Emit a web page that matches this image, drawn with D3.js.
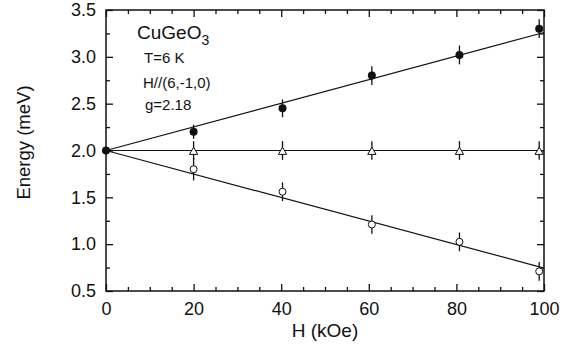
<!DOCTYPE html>
<html lang="en">
<head>
<meta charset="UTF-8">
<title>CuGeO3 ESR</title>
<style>
  body { margin: 0; background: #fff; }
  svg text { font-family: "Liberation Sans", Arial, sans-serif; fill: #111; }
</style>
</head>
<body>
<script src="https://cdn.jsdelivr.net/npm/d3@7.8.5/dist/d3.min.js"></script>
<script>
// data
const hUp = [0, 20, 40.3, 60.7, 80.7, 98.9];
const eUp = [2.0, 2.2, 2.45, 2.8, 3.02, 3.3];
const errUp = [0, 0.075, 0.095, 0.1, 0.1, 0.1];

const hMid = [20, 40.3, 60.7, 80.7, 98.9];
const eMid = [2.0, 2.0, 2.0, 2.0, 2.0];
const errMid = [0.1, 0.1, 0.1, 0.1, 0.1];

const hLow = [20, 40.3, 60.7, 80.7, 98.9];
const eLow = [1.80, 1.56, 1.21, 1.025, 0.71];
const errLow = [0.12, 0.1, 0.1, 0.1, 0.1];

// fitted lines (g = 2.18)
const fitH = [0, 100];
const fitUp = [2.0, 3.26];
const fitMid = [2.0, 2.0];
const fitLow = [2.0, 0.745];

const xTicks = [0, 20, 40, 60, 80, 100];
const yTicks = [0.5, 1.0, 1.5, 2.0, 2.5, 3.0, 3.5];

const width = 571, height = 347;
const margin = {left: 106, right: 27, top: 10, bottom: 56};

const svg = d3.select("body").append("svg")
    .attr("width", width)
    .attr("height", height);

const x = d3.scaleLinear().domain([0, 100]).range([margin.left, width - margin.right]);
const y = d3.scaleLinear().domain([0.5, 3.5]).range([height - margin.bottom, margin.top]);

const x0 = x.range()[0], x1 = x.range()[1];
const y0 = y.range()[0], y1 = y.range()[1];

// ticks, all pointing inward
const xMinor = d3.range(0, 101, 5).filter(v => v % 20 != 0);
const yMinor = d3.range(0.75, 3.5, 0.5);

svg.append("g")
    .attr("transform", `translate(0,${y0})`)
    .call(d3.axisBottom(x).tickValues(xTicks).tickSize(-7).tickPadding(11).tickFormat(d3.format("d")))
    .call(g => g.select(".domain").remove())
    .call(g => g.selectAll("text").style("font-size", "18px").attr("fill", "#111"));
svg.append("g")
    .attr("transform", `translate(0,${y0})`)
    .call(d3.axisBottom(x).tickValues(xMinor).tickSize(-4).tickFormat(""))
    .call(g => g.select(".domain").remove());
svg.append("g")
    .attr("transform", `translate(0,${y1})`)
    .call(d3.axisTop(x).tickValues(xTicks).tickSize(-7).tickFormat(""))
    .call(g => g.select(".domain").remove());
svg.append("g")
    .attr("transform", `translate(0,${y1})`)
    .call(d3.axisTop(x).tickValues(xMinor).tickSize(-4).tickFormat(""))
    .call(g => g.select(".domain").remove());

svg.append("g")
    .attr("transform", `translate(${x0},0)`)
    .call(d3.axisLeft(y).tickValues(yTicks).tickSize(-7).tickPadding(10).tickFormat(d3.format(".1f")))
    .call(g => g.select(".domain").remove())
    .call(g => g.selectAll("text").style("font-size", "18px").attr("fill", "#111"));
svg.append("g")
    .attr("transform", `translate(${x0},0)`)
    .call(d3.axisLeft(y).tickValues(yMinor).tickSize(-4).tickFormat(""))
    .call(g => g.select(".domain").remove());
svg.append("g")
    .attr("transform", `translate(${x1},0)`)
    .call(d3.axisRight(y).tickValues(yTicks).tickSize(-7).tickFormat(""))
    .call(g => g.select(".domain").remove());
svg.append("g")
    .attr("transform", `translate(${x1},0)`)
    .call(d3.axisRight(y).tickValues(yMinor).tickSize(-4).tickFormat(""))
    .call(g => g.select(".domain").remove());

svg.selectAll(".tick line").attr("stroke", "#111").attr("stroke-width", 1.3);

// frame
svg.append("rect")
    .attr("x", x0).attr("y", y1)
    .attr("width", x1 - x0).attr("height", y0 - y1)
    .attr("fill", "none").attr("stroke", "#111").attr("stroke-width", 1.5);

// fit lines
const line = d3.line().x(d => x(d[0])).y(d => y(d[1]));
[fitUp, fitMid, fitLow].forEach(f => {
    svg.append("path")
        .datum(fitH.map((h, i) => [h, f[i]]))
        .attr("fill", "none")
        .attr("stroke", "#111")
        .attr("stroke-width", 1.2)
        .attr("d", line);
});

// error bars
function errBars(hs, es, errs) {
    svg.append("g").selectAll("line")
        .data(hs.map((h, i) => [h, es[i], errs[i]]).filter(d => d[2] > 0))
        .join("line")
        .attr("x1", d => x(d[0])).attr("x2", d => x(d[0]))
        .attr("y1", d => y(d[1] - d[2])).attr("y2", d => y(d[1] + d[2]))
        .attr("stroke", "#111").attr("stroke-width", 1.3);
}
errBars(hUp, eUp, errUp);
errBars(hMid, eMid, errMid);
errBars(hLow, eLow, errLow);

// markers
svg.append("g").selectAll("circle")
    .data(hUp.map((h, i) => [h, eUp[i]]))
    .join("circle")
    .attr("cx", d => x(d[0])).attr("cy", d => y(d[1]))
    .attr("r", 4).attr("fill", "#111");

svg.append("g").selectAll("circle")
    .data(hLow.map((h, i) => [h, eLow[i]]))
    .join("circle")
    .attr("cx", d => x(d[0])).attr("cy", d => y(d[1]))
    .attr("r", 3.5).attr("fill", "#fff").attr("stroke", "#111").attr("stroke-width", 1);

const tri = d3.symbol().type(d3.symbolTriangle).size(30);
svg.append("g").selectAll("path")
    .data(hMid.map((h, i) => [h, eMid[i]]))
    .join("path")
    .attr("transform", d => `translate(${x(d[0])},${y(d[1]) + 1.5})`)
    .attr("d", tri)
    .attr("fill", "#fff").attr("stroke", "#111").attr("stroke-width", 1);

// axis titles
svg.append("text")
    .attr("x", (x0 + x1) / 2)
    .attr("y", 337)
    .attr("text-anchor", "middle")
    .style("font-size", "19px")
    .text("H (kOe)");

svg.append("text")
    .attr("transform", `translate(30,${(y0 + y1) / 2 - 8}) rotate(-90)`)
    .attr("text-anchor", "middle")
    .style("font-size", "18.5px")
    .text("Energy (meV)");

// annotations
const title = svg.append("text").attr("x", 137).attr("y", 39).style("font-size", "19px");
title.append("tspan").text("CuGeO");
title.append("tspan").attr("dy", 6).style("font-size", "14px").text("3");

svg.append("text").attr("x", 144).attr("y", 63).style("font-size", "15px").text("T=6 K");
svg.append("text").attr("x", 143).attr("y", 88).style("font-size", "15px").text("H//(6,-1,0)");
svg.append("text").attr("x", 145).attr("y", 110).style("font-size", "15px").text("g=2.18");
</script>
</body>
</html>
